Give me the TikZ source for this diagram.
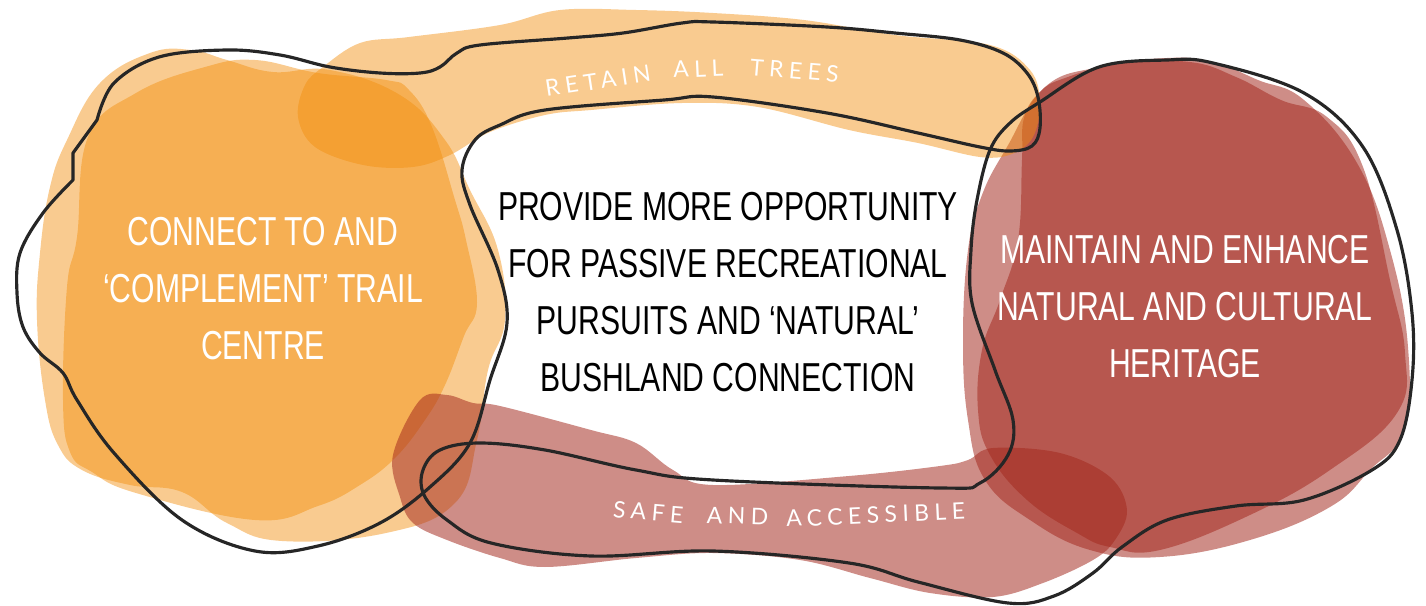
\documentclass[tikz,border=0pt]{standalone}
\usepackage{fontspec}
\setmainfont{Liberation Sans}
\newfontfamily\narrowfont{Liberation Sans}[FakeStretch=0.745]
\newfontfamily\spacedfont{Lato}[LetterSpace=24]
\definecolor{amber}{HTML}{F28E0C}
\definecolor{brick}{HTML}{A3281D}

\tikzstyle{amberblob}=[fill=amber, fill opacity=0.46]
\tikzstyle{brickblob}=[fill=brick, fill opacity=0.53]
\tikzstyle{loop}=[draw=black!85, line width=0.9pt, line join=round]
\tikzstyle{goal}=[font=\narrowfont\fontsize{11.5}{16.2}\selectfont, align=center, inner sep=0pt]

\begin{document}
\begin{tikzpicture}[x=0.01cm, y=-0.01cm, word/.style = {font=\spacedfont\fontsize{6.5}{7}\selectfont, text=white, inner sep=0pt, anchor=base west}]
    \useasboundingbox (0,0) rectangle (1426,606);

    % orange side
    \fill[amberblob] plot[smooth cycle, tension=0.7] coordinates {(40,253) (37,320) (45,400) (58,445) (82,470) (130,485) (182,492) (227,523) (282,541) (386,533) (455,503) (477,440) (488,370) (505,320) (498,250) (470,190) (445,140) (400,95) (330,70) (273,72) (227,60) (191,50) (150,53) (100,83) (67,140) (50,187)};
    \fill[amberblob] plot[smooth cycle, tension=0.7] coordinates {(88,137) (77,237) (67,287) (63,400) (70,452) (92,472) (136,493) (255,520) (318,506) (360,485) (395,458) (425,420) (445,385) (464,336) (477,303) (466,240) (455,200) (432,127) (409,90) (386,80) (318,73) (255,60) (205,67) (136,93)};

    % red side
    \fill[brickblob] plot[smooth cycle, tension=0.7] coordinates {(1007,147) (1045,87) (1099,67) (1167,58) (1213,62) (1258,80) (1304,100) (1357,163) (1390,250) (1408,347) (1404,430) (1370,470) (1330,507) (1250,540) (1160,557) (1090,550) (1030,520) (985,480) (968,420) (963,340) (968,250) (982,195)};
    \fill[brickblob] plot[smooth cycle, tension=0.7] coordinates {(1022,160) (1024,118) (1040,92) (1065,78) (1122,63) (1190,62) (1236,77) (1281,100) (1327,117) (1363,167) (1390,280) (1405,353) (1397,413) (1330,470) (1250,515) (1160,550) (1110,547) (1077,533) (1027,500) (990,455) (978,410) (982,350) (1000,300) (1018,240)};

    % bands
    \fill[amberblob] plot[smooth cycle, tension=0.6] coordinates {(298,117) (315,147) (363,165) (413,167) (450,155) (490,132) (545,115) (591,110) (682,103) (758,107) (849,130) (918,143) (980,157) (1012,154) (1033,137) (1040,103) (1030,70) (990,45) (895,35) (804,20) (713,13) (636,10) (560,10) (500,25) (409,37) (360,43) (323,67) (305,85)};
    \fill[brickblob] plot[smooth cycle, tension=0.6] coordinates {(393,455) (400,497) (413,523) (447,540) (500,558) (545,567) (636,558) (713,553) (800,560) (870,578) (930,593) (993,597) (1043,583) (1093,560) (1115,540) (1127,510) (1110,477) (1060,453) (993,448) (968,460) (940,466) (849,476) (713,485) (673,470) (636,443) (591,430) (500,406) (473,403) (447,395) (420,400)};

    % outlines
    \draw[loop] plot[smooth, tension=0.6] coordinates {(73,180) (43,213) (20,253) (17,293) (23,327) (40,353) (63,373) (77,400) (114,453) (182,520) (255,551) (318,546) (380,523) (430,487) (470,443) (490,380) (507,323) (498,270) (470,205) (462,170) (475,140) (500,125) (545,110) (664,100) (713,97) (827,113) (918,133) (980,147) (1010,151) (1032,146) (1040,128) (1038,97) (1027,73) (1003,53) (960,40) (895,33) (827,27) (713,22) (682,23) (623,33) (568,38) (480,45) (457,53) (440,67) (420,73) (380,73) (330,67) (280,55) (227,50) (159,57) (114,83) (97,120)} -- (73,153) -- cycle;
    \draw[loop] plot[smooth cycle, tension=0.6] coordinates {(972,303) (995,370) (1013,420) (1008,455) (980,483) (940,488) (713,480) (636,470) (545,450) (480,443) (440,450) (423,470) (424,495) (447,520) (491,543) (591,556) (713,551) (849,563) (918,582) (1008,603) (1054,596) (1093,573) (1122,547) (1167,520) (1236,506) (1304,500) (1372,470) (1400,440) (1412,380) (1412,313) (1397,230) (1363,147) (1304,93) (1213,63) (1167,60) (1099,67) (1040,102) (1010,123) (990,150) (977,200) (971,250)};

    \node (trail) [goal, text=white] at (263,289) {CONNECT TO AND\\‘COMPLEMENT’ TRAIL\\CENTRE};
    \node (passive) [goal, text=black] at (728,292) {PROVIDE MORE OPPORTUNITY\\FOR PASSIVE RECREATIONAL\\PURSUITS AND ‘NATURAL’\\BUSHLAND CONNECTION};
    \node (heritage) [goal, text=white] at (1185,307) {MAINTAIN AND ENHANCE\\NATURAL AND CULTURAL\\HERITAGE};

    \node (retain) [word, rotate=8.7] at (546,97) {RETAIN};
    \node (all) [word, rotate=2.5] at (673,78) {ALL};
    \node (trees) [word, rotate=-4.8] at (749,75) {TREES};
    \node (safe) [word, rotate=-5] at (612,517) {SAFE};
    \node (and) [word, rotate=-2] at (706,523) {AND};
    \node (access) [word, rotate=2.6] at (786,527) {ACCESSIBLE};
\end{tikzpicture}
\end{document}
